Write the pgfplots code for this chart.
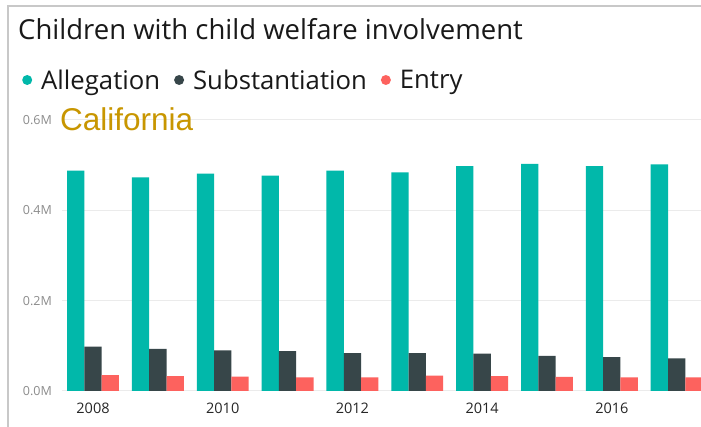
\documentclass[border=0pt]{standalone}
\usepackage{fontspec}
\setmainfont{Open Sans}
\newfontfamily\arialfont{Liberation Sans}
\usepackage{pgfplots}
\usepackage{pgfplotstable}
\pgfplotsset{compat=1.18}

\definecolor{pbiTeal}{HTML}{01B8AA}
\definecolor{pbiDark}{HTML}{374649}
\definecolor{pbiRed}{HTML}{FD625E}
\definecolor{calGold}{RGB}{200,150,0}
\definecolor{frameGray}{RGB}{200,200,200}

% values in millions of children
\pgfplotstableread{
year value
2008 0.488
2009 0.473
2010 0.481
2011 0.477
2012 0.488
2013 0.484
2014 0.498
2015 0.503
2016 0.498
2017 0.502
}\allegation

\pgfplotstableread{
year value
2008 0.098
2009 0.093
2010 0.090
2011 0.088
2012 0.084
2013 0.084
2014 0.083
2015 0.078
2016 0.075
2017 0.072
}\substantiation

\pgfplotstableread{
year value
2008 0.035
2009 0.033
2010 0.032
2011 0.030
2012 0.030
2013 0.034
2014 0.033
2015 0.031
2016 0.030
2017 0.030
}\entry

\begin{document}
\begin{tikzpicture}[x=1pt,y=1pt]
\useasboundingbox (0,0) rectangle (701,427);
\fill[white] (0,0) rectangle (701,427);
% partial frame of the visual
\draw[frameGray, line width=1.2pt] (8,0) -- (8,421) -- (701,421);

\node[anchor=base west, inner sep=0pt, text=black!90, font=\fontsize{27.5}{32}\selectfont]
  at (18,387) {Children with child welfare involvement};

\begin{axis}[
    at={(62pt,36pt)}, anchor=south west,
    scale only axis,
    width=639pt, height=271pt,
    xmin=2007.522, xmax=2017.375,
    ymin=0, ymax=0.6,
    axis line style={draw=none},
    major tick style={draw=none},
    ytick={0,0.2,0.4,0.6},
    yticklabels={0.0M,0.2M,0.4M,0.6M},
    xtick={2008,2010,2012,2014,2016},
    xticklabels={2008,2010,2012,2014,2016},
    ymajorgrids,
    grid style={color=black!8, line width=1pt},
    /pgf/number format/assume math mode=true,
    yticklabel style={font=\fontsize{12.5}{14}\selectfont, text=black!45,
      anchor=east, inner sep=0pt, xshift=-10pt},
    xticklabel style={font=\fontsize{14.5}{16}\selectfont, text=black!85,
      anchor=north, inner sep=0pt, yshift=-8pt},
    ybar, bar width=17.3pt,
    legend columns=-1,
    legend style={draw=none, fill=none, at={(-0.0673,1.1476)}, anchor=west,
      font=\fontsize{25.7}{30}\selectfont, text=black!90,
      nodes={inner sep=0pt},
      /tikz/every odd column/.append style={column sep=9pt},
      /tikz/every even column/.append style={column sep=14pt}},
    legend image code/.code={\fill[#1] (5pt,0pt) circle (5pt);},
]
\addplot[fill=pbiTeal, draw=none, bar shift=-17.3pt] table[x=year, y=value] {\allegation};
\addlegendentry{Allegation}
\addplot[fill=pbiDark, draw=none, bar shift=0pt] table[x=year, y=value] {\substantiation};
\addlegendentry{Substantiation}
\addplot[fill=pbiRed, draw=none, bar shift=17.3pt] table[x=year, y=value] {\entry};
\addlegendentry{Entry}
\end{axis}

\node[anchor=base west, inner sep=0pt, text=calGold, font=\arialfont\fontsize{31.5}{36}\selectfont]
  at (60,296) {California};
\end{tikzpicture}
\end{document}
